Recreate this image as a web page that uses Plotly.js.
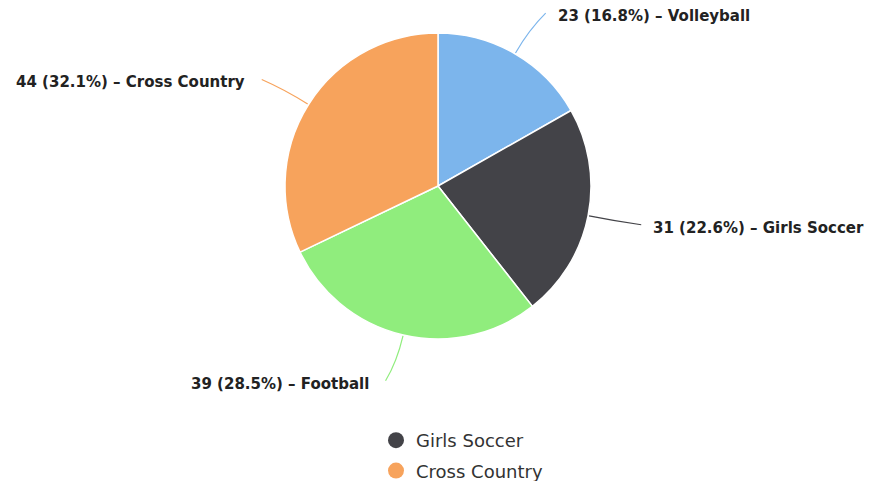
<!DOCTYPE html>
<html>
<head>
<meta charset="utf-8">
<script src="https://cdn.plot.ly/plotly-3.0.1.min.js"></script>
<style>html,body{margin:0;padding:0;background:#fff;}#chart{width:872px;height:481px;}</style>
</head>
<body>
<div id="chart"></div>
<script>
const categories = ["Volleyball", "Girls Soccer", "Football", "Cross Country"];
const counts = [23, 31, 39, 44];
const colors = ["#7cb5ec", "#434348", "#90ed7d", "#f7a35c"];
const legendItems = ["Girls Soccer", "Cross Country"];

const W = 872, H = 481;
const cx = 438, cy = 186, R = 153;
const domX = [(cx - R) / W, (cx + R) / W];
const domY = [1 - (cy + R) / H, 1 - (cy - R) / H];

const total = counts.reduce((a, b) => a + b, 0);
const px = x => x / W;
const py = y => 1 - y / H;

const shapes = [];
const annotations = [];
let cum = 0;
counts.forEach((v, i) => {
  const mid = (cum + v / 2) / total * 2 * Math.PI;
  cum += v;
  const s = Math.sin(mid), c = Math.cos(mid);
  const right = s >= 0;
  const p0 = [cx + (R + 1) * s, cy - (R + 1) * c];
  const pc = [cx + (R + 28) * s, cy - (R + 28) * c];
  const p1 = [cx + 200 * s + (right ? 7 : -7), cy - 200 * c];
  shapes.push({
    type: 'path', xref: 'paper', yref: 'paper',
    path: `M ${px(p0[0])},${py(p0[1])} Q ${px(pc[0])},${py(pc[1])} ${px(p1[0])},${py(p1[1])}`,
    line: {color: colors[i], width: 1.2}
  });
  const pct = (v / total * 100).toFixed(1);
  annotations.push({
    xref: 'paper', yref: 'paper',
    x: px(p1[0] + (right ? 10 : -15)), y: py(p1[1] + 3),
    xanchor: right ? 'left' : 'right', yanchor: 'middle',
    text: `${v} (${pct}%) – ${categories[i]}`,
    showarrow: false,
    font: {family: 'DejaVu Sans', size: 15, color: '#222', weight: 600}
  });
});

const traces = [{
  type: 'pie',
  labels: categories,
  values: counts,
  sort: false,
  direction: 'clockwise',
  rotation: 0,
  marker: {colors: colors, line: {color: '#ffffff', width: 1.5}},
  textinfo: 'none',
  hoverinfo: 'none',
  showlegend: false,
  domain: {x: domX, y: domY}
}];
legendItems.forEach((name, k) => {
  traces.push({
    type: 'scatter', mode: 'markers', x: [null], y: [null],
    name: name, legendgroup: 'g' + k,
    marker: {color: colors[categories.indexOf(name)], size: 18, symbol: 'circle'},
    hoverinfo: 'none'
  });
});

const layout = {
  width: W, height: H,
  margin: {l: 0, r: 0, t: 0, b: 0, autoexpand: false},
  paper_bgcolor: '#ffffff', plot_bgcolor: '#ffffff',
  xaxis: {visible: false}, yaxis: {visible: false},
  showlegend: true,
  legend: {
    x: px(376), y: py(422), xanchor: 'left', yanchor: 'top',
    orientation: 'v', tracegroupgap: 4,
    font: {family: 'DejaVu Sans', size: 18, color: '#333333'},
    bgcolor: 'rgba(0,0,0,0)'
  },
  shapes: shapes,
  annotations: annotations
};

Plotly.newPlot('chart', traces, layout, {displayModeBar: false, staticPlot: true});
</script>
</body>
</html>
